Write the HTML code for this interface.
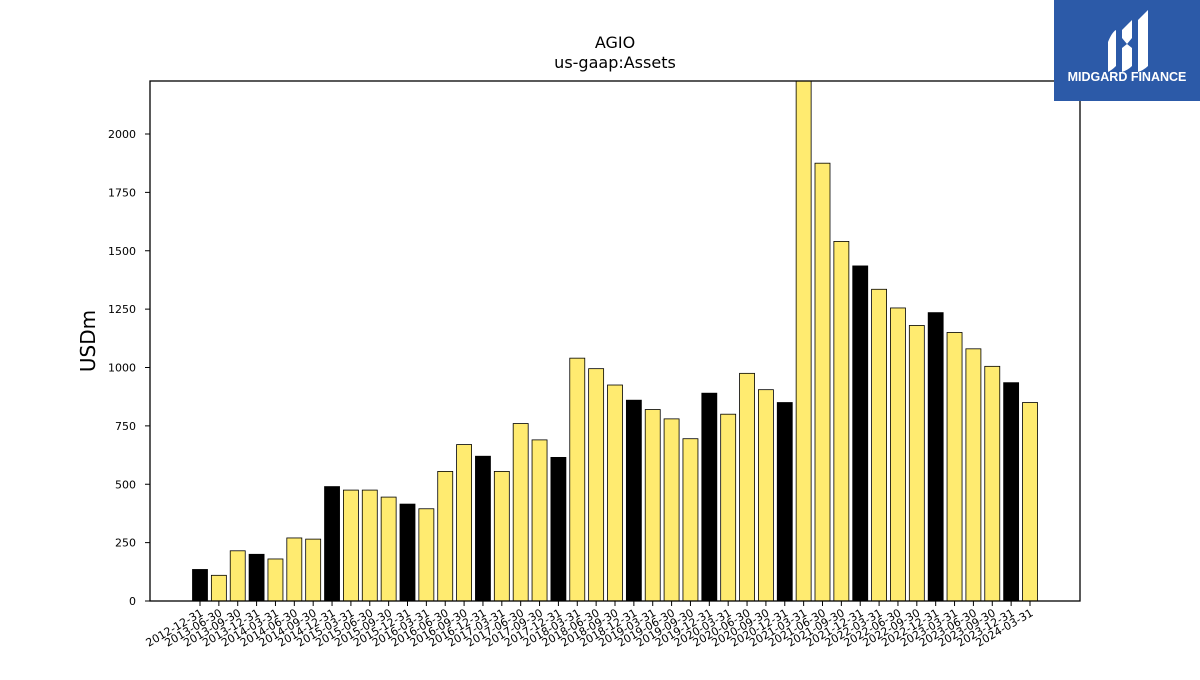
<!DOCTYPE html>
<html><head><meta charset="utf-8"><style>
body{margin:0;background:#fff;font-family:"Liberation Sans","DejaVu Sans",sans-serif}
</style></head><body>
<svg id="chart" width="1200" height="675" viewBox="0 0 1200 675" xmlns="http://www.w3.org/2000/svg" style="font-family:'DejaVu Sans','Liberation Sans',sans-serif">
<rect width="1200" height="675" fill="#fff"/>
<text x="615" y="48" font-size="16" text-anchor="middle">AGIO</text>
<text x="615" y="68" font-size="16" text-anchor="middle">us-gaap:Assets</text>
<text transform="translate(95,341) rotate(-90)" font-size="20" text-anchor="middle">USDm</text>
<g id="plot"></g>
<rect x="150" y="81" width="930" height="520" fill="none" stroke="#000" stroke-width="1.3"/>
<g>
<rect x="1054" y="0" width="146" height="101" fill="#2c5aa8"/>
<path d="M1108 42 Q1112 32 1116 30 L1116 66 Q1112 70 1108 72 Z" fill="#fff"/>
<path d="M1122 30 Q1128 24 1132 20 L1132 38 L1127 44 L1122 38 Z M1122 48 L1127 44 L1132 48 L1132 66 Q1128 70 1122 72 Z" fill="#fff"/>
<path d="M1138 20 Q1144 14 1148 10 L1148 66 Q1144 70 1138 72 Z" fill="#fff"/>
<text x="1127" y="81" font-size="12.5" font-weight="bold" fill="#fff" text-anchor="middle" font-family="Liberation Sans,sans-serif">MIDGARD FINANCE</text>
</g>
</svg>
<script>
const dates=["2012-12-31","2013-06-30","2013-09-30","2013-12-31","2014-03-31","2014-06-30","2014-09-30","2014-12-31","2015-03-31","2015-06-30","2015-09-30","2015-12-31","2016-03-31","2016-06-30","2016-09-30","2016-12-31","2017-03-31","2017-06-30","2017-09-30","2017-12-31","2018-03-31","2018-06-30","2018-09-30","2018-12-31","2019-03-31","2019-06-30","2019-09-30","2019-12-31","2020-03-31","2020-06-30","2020-09-30","2020-12-31","2021-03-31","2021-06-30","2021-09-30","2021-12-31","2022-03-31","2022-06-30","2022-09-30","2022-12-31","2023-03-31","2023-06-30","2023-09-30","2023-12-31","2024-03-31"];
const assets=[135,110,215,200,180,270,265,490,475,475,445,415,395,555,670,620,555,760,690,615,1040,995,925,860,820,780,695,890,800,975,905,850,2240,1875,1540,1435,1335,1255,1180,1235,1150,1080,1005,935,850];
const yTicks=[0,250,500,750,1000,1250,1500,1750,2000];
const NS="http://www.w3.org/2000/svg";
const g=document.getElementById('plot');
const x0=200,step=(1030-200)/44,bw=15;
const yMax=2227,py0=601,py1=81;
const y=v=>py0-(Math.min(v,yMax)/yMax)*(py0-py1);
const xs=i=>x0+i*step;
function mk(t,a){const e=document.createElementNS(NS,t);for(const k in a)e.setAttribute(k,a[k]);g.appendChild(e);return e;}
yTicks.forEach(t=>{
 const l=mk('line',{x1:145,x2:150,y1:y(t),y2:y(t),stroke:'#000'});
 
 
 const tx=mk('text',{x:136,y:y(t)+4,'font-size':11,'text-anchor':'end'});tx.textContent=t;
 
 
});
assets.forEach((v,i)=>{
 const q4=dates[i].endsWith('12-31');
 const r=mk('rect',{x:xs(i)-bw/2,y:y(v),width:bw,height:py0-y(v),fill:q4?'#000':'#ffeb70',stroke:'#000','stroke-width':0.8});
 
 
 const tk=mk('line',{x1:xs(i),x2:xs(i),y1:601,y2:606,stroke:'#000'});
 
 
 const tx=mk('text',{transform:`translate(${xs(i)+4},${615}) rotate(-30)`,'font-size':11,'text-anchor':'end'});
 tx.textContent=dates[i];
 
 
});
</script>
</body></html>
